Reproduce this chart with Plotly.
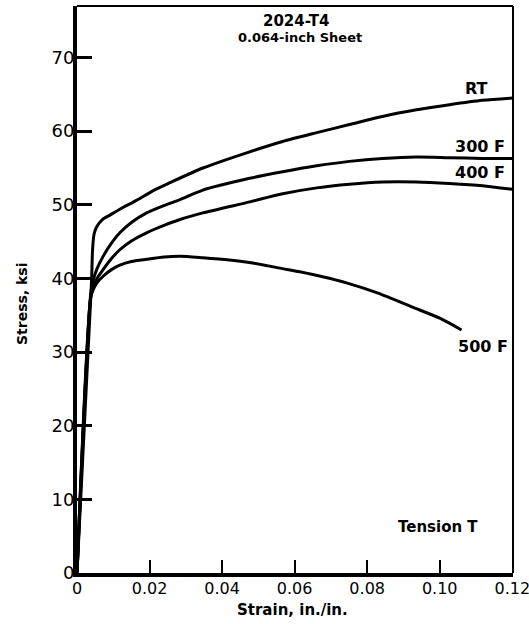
import plotly.graph_objects as go

# ---- data ----
strain_rt = [0, 0.0040, 0.0043, 0.0047, 0.0054, 0.0070, 0.0091, 0.0125, 0.0164, 0.0209,
             0.0256, 0.0347, 0.0476, 0.0567, 0.0661, 0.0751, 0.0842, 0.0936, 0.1027,
             0.1118, 0.1200]
stress_rt = [0, 39.5, 44.0, 46.0, 47.0, 48.0, 48.6, 49.6, 50.6, 51.9,
             53.0, 55.0, 57.2, 58.6, 59.8, 60.9, 62.0, 62.9, 63.6,
             64.2, 64.5]

strain_300 = [0, 0.0038, 0.0045, 0.0055, 0.0072, 0.0095, 0.0118, 0.0150, 0.0192, 0.0240,
              0.0284, 0.0347, 0.0476, 0.0567, 0.0661, 0.0751, 0.0842, 0.0936, 0.1027,
              0.1118, 0.1200]
stress_300 = [0, 38.0, 39.8, 41.3, 43.0, 44.8, 46.2, 47.6, 48.9, 49.9,
              50.7, 52.0, 53.6, 54.5, 55.3, 55.9, 56.3, 56.5, 56.4,
              56.3, 56.3]

strain_400 = [0, 0.0038, 0.0045, 0.0055, 0.0072, 0.0095, 0.0118, 0.0150, 0.0192, 0.0240,
              0.0284, 0.0347, 0.0476, 0.0567, 0.0661, 0.0751, 0.0842, 0.0936, 0.1027,
              0.1118, 0.1200]
stress_400 = [0, 37.5, 38.8, 40.0, 41.2, 42.7, 43.9, 45.1, 46.2, 47.2,
              48.0, 48.9, 50.4, 51.5, 52.3, 52.8, 53.1, 53.1, 52.9,
              52.6, 52.1]

strain_500 = [0, 0.0038, 0.0045, 0.0055, 0.0072, 0.0095, 0.0118, 0.0150, 0.0192, 0.0240,
              0.0284, 0.0347, 0.0420, 0.0484, 0.0559, 0.0614, 0.0680, 0.0743, 0.0830,
              0.0925, 0.1000, 0.1060]
stress_500 = [0, 37.5, 38.5, 39.4, 40.3, 41.2, 41.8, 42.3, 42.6, 42.9,
              43.0, 42.8, 42.5, 42.1, 41.4, 40.9, 40.2, 39.4, 38.0,
              36.1, 34.6, 33.0]

x_tickvals = [0, 0.02, 0.04, 0.06, 0.08, 0.10, 0.12]
x_ticktext = ["0", "0.02", "0.04", "0.06", "0.08", "0.10", "0.12"]
y_tickvals = [0, 10, 20, 30, 40, 50, 60, 70]
y_ticktext = ["0", "10", "20", "30", "40", "50", "60", "70"]

curve_labels = ["RT", "300 F", "400 F", "500 F"]

FONT = "DejaVu Sans"
INK = "#000000"

fig = go.Figure()
for xs, ys, name in [(strain_rt, stress_rt, curve_labels[0]),
                     (strain_300, stress_300, curve_labels[1]),
                     (strain_400, stress_400, curve_labels[2]),
                     (strain_500, stress_500, curve_labels[3])]:
    fig.add_trace(go.Scatter(x=xs, y=ys, mode="lines", name=name,
                             line=dict(color=INK, width=3, shape="spline", smoothing=0.7),
                             showlegend=False, hoverinfo="skip"))


def note(x, y, text, size, angle=0):
    fig.add_annotation(x=x, y=y, xref="paper", yref="paper", text=text,
                       showarrow=False, textangle=angle,
                       font=dict(family=FONT, size=size, color=INK),
                       xanchor="center", yanchor="middle")


# curve labels (paper positions)
label_pos = [(0.917, 0.854), (0.924, 0.752), (0.924, 0.706), (0.931, 0.400)]
for (px, py), txt in zip(label_pos, curve_labels):
    note(px, py, "<b>%s</b>" % txt, 16)

note(0.502, 0.974, "<b>2024-T4</b>", 15)
note(0.511, 0.944, "<b>0.064-inch Sheet</b>", 13)
note(0.828, 0.081, "<b>Tension T</b>", 15)

# axis titles
note((292 - 77) / 436, (573 - 610) / 567, "<b>Strain, in./in.</b>", 15)
note((22 - 77) / 436, (573 - 304) / 567, "<b>Stress, ksi</b>", 14, angle=-90)

# top and right frame lines (thinner)
fig.add_shape(type="line", xref="paper", yref="paper", x0=0, x1=1, y0=1, y1=1,
              line=dict(color=INK, width=2))
fig.add_shape(type="line", xref="paper", yref="paper", x0=1, x1=1, y0=0, y1=1,
              line=dict(color=INK, width=2))

fig.update_xaxes(range=[0, 0.1202], tickvals=x_tickvals, ticktext=x_ticktext,
                 ticks="inside", ticklen=13, tickwidth=1.5, tickcolor=INK,
                 showline=True, linewidth=4, linecolor=INK, showgrid=False, zeroline=False,
                 ticklabelstandoff=-2, ticklabeloverflow="allow", automargin=False,
                 tickfont=dict(family=FONT, size=16, color=INK))
fig.update_yaxes(range=[0, 77], tickvals=y_tickvals, ticktext=y_ticktext,
                 ticks="inside", ticklen=15, tickwidth=3, tickcolor=INK,
                 showline=True, linewidth=4, linecolor=INK, showgrid=False, zeroline=False,
                 ticklabelstandoff=-5, automargin=False,
                 tickfont=dict(family=FONT, size=18, color=INK))

fig.update_layout(width=529, height=624, margin=dict(l=77, r=16, t=6, b=51),
                  paper_bgcolor="white", plot_bgcolor="white",
                  font=dict(family=FONT, color=INK), hovermode=False)

fig.write_html("out.html", config={"displayModeBar": False},
               post_script="document.body.style.margin='0px';"
                           "document.body.style.overflow='hidden';")
